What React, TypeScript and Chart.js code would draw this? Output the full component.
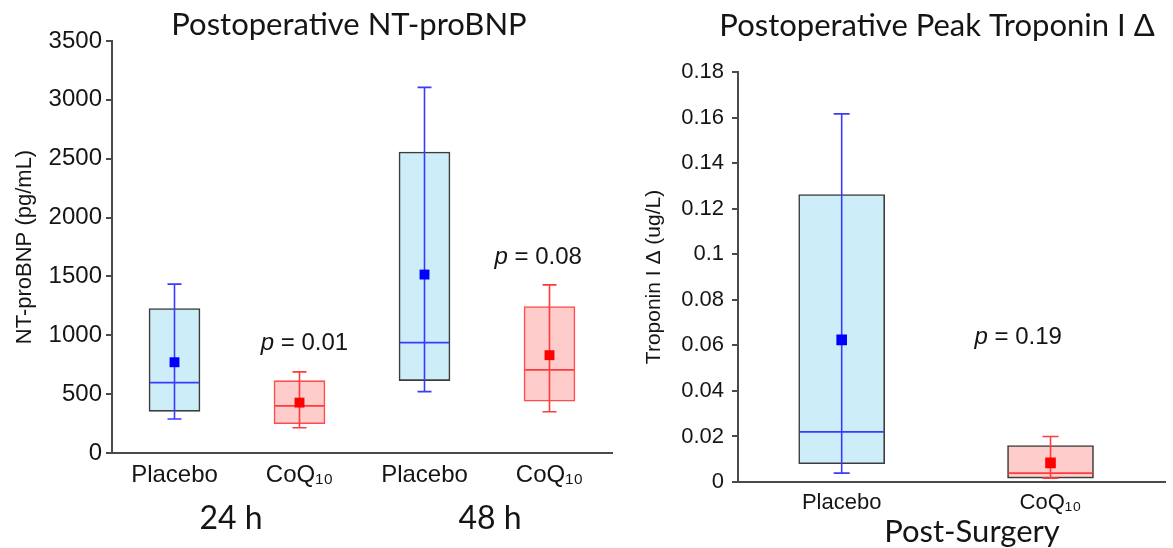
import React, { useEffect, useRef } from 'react';
import { Chart, registerables } from 'chart.js';

Chart.register(...registerables);

// ---------- Left chart: Postoperative NT-proBNP ----------
const leftCategories = ['Placebo', 'CoQ₁₀', 'Placebo', 'CoQ₁₀'];
const leftGroups = ['24 h', '48 h'];
const leftQ1 = [354, 249, 615, 440];
const leftQ3 = [1227, 615, 2557, 1244];
const leftMedian = [598, 400, 938, 706];
const leftMean = [771, 428, 1516, 831];
const leftWhiskerLow = [289, 215, 521, 351];
const leftWhiskerHigh = [1435, 689, 3106, 1428];
const leftYTicks = [0, 500, 1000, 1500, 2000, 2500, 3000, 3500];
const leftPValues = ['0.01', '0.08'];

// ---------- Right chart: Postoperative Peak Troponin I Δ ----------
const rightCategories = ['Placebo', 'CoQ₁₀'];
const rightGroup = 'Post-Surgery';
const rightQ1 = [0.008, 0.0017];
const rightQ3 = [0.1262, 0.016];
const rightMedian = [0.022, 0.0039];
const rightMean = [0.0624, 0.0084];
const rightWhiskerLow = [0.0039, 0.0017];
const rightWhiskerHigh = [0.1616, 0.02];
const rightYTicks = [0, 0.02, 0.04, 0.06, 0.08, 0.1, 0.12, 0.14, 0.16, 0.18];
const rightPValues = ['0.19'];

const BLUE_FILL = '#cdeef9';
const RED_FILL = '#ffcccc';
const BLUE_LINE = '#3a3aff';
const RED_LINE = '#ff3b3b';
const BLUE_MARK = '#0000ff';
const RED_MARK = '#ff0000';
const DARK = '#3c3c3c';
const AXIS = '#4a4a4a';
const TXT = '#151515';
const ARIAL = "'Liberation Sans', Arial, Helvetica, sans-serif";
const CAL = "Lato, 'Open Sans', sans-serif";

const isPlacebo = (label: string) => label === 'Placebo';

const boxExtras = {
  id: 'boxExtras',
  afterDatasetDraw(chart: any, args: any, opts: any) {
    if (args.index !== 0) return;
    const { ctx } = chart;
    const y = chart.scales.y;
    const meta = args.meta;
    ctx.save();
    ctx.lineWidth = opts.lineWidth;
    meta.data.forEach((bar: any, i: number) => {
      const { x, width } = bar.getProps(['x', 'width'], true);
      ctx.strokeStyle = opts.colors[i];
      const yLo = y.getPixelForValue(opts.lows[i]);
      const yHi = y.getPixelForValue(opts.highs[i]);
      const yMed = y.getPixelForValue(opts.medians[i]);
      const half = opts.capWidth / 2;
      ctx.beginPath();
      ctx.moveTo(x, yLo);
      ctx.lineTo(x, yHi);
      ctx.moveTo(x - half, yHi);
      ctx.lineTo(x + half, yHi);
      ctx.moveTo(x - half, yLo);
      ctx.lineTo(x + half, yLo);
      ctx.moveTo(x - width / 2 + 1, yMed);
      ctx.lineTo(x + width / 2 - 1, yMed);
      ctx.stroke();
    });
    ctx.restore();
  },
};

const annotations = {
  id: 'annotations',
  afterDraw(chart: any, _args: any, opts: any) {
    const { ctx } = chart;
    const xs = chart.scales.x;
    const ys = chart.scales.y;
    ctx.save();
    ctx.fillStyle = TXT;
    ctx.textBaseline = 'alphabetic';
    // title
    ctx.font = `${opts.titleSize}px ${CAL}`;
    ctx.textAlign = 'center';
    ctx.fillText(opts.title, opts.titleX, opts.titleY);
    // group labels
    ctx.font = `${opts.groupSize}px ${CAL}`;
    opts.groups.forEach((g: any) => {
      ctx.fillText(g.text, g.x, g.y);
    });
    // p-values
    opts.pvals.forEach((p: any) => {
      const px = xs.getPixelForValue(p.x);
      const py = ys.getPixelForValue(p.y);
      ctx.textAlign = 'left';
      ctx.textBaseline = 'middle';
      ctx.font = `italic ${opts.pSize}px ${ARIAL}`;
      const w1 = ctx.measureText('p').width;
      ctx.font = `${opts.pSize}px ${ARIAL}`;
      const rest = ' = ' + p.text;
      const w2 = ctx.measureText(rest).width;
      const start = px - (w1 + w2) / 2;
      ctx.font = `italic ${opts.pSize}px ${ARIAL}`;
      ctx.fillText('p', start, py);
      ctx.font = `${opts.pSize}px ${ARIAL}`;
      ctx.fillText(rest, start + w1, py);
    });
    ctx.restore();
  },
};

function makeConfig(p: any) {
  return {
    type: 'bar',
    data: {
      datasets: [
        {
          type: 'bar',
          order: 2,
          data: p.q1.map((q: number, i: number) => ({ x: i, y: [q, p.q3[i]] })),
          backgroundColor: p.categories.map((c: string) => (isPlacebo(c) ? BLUE_FILL : RED_FILL)),
          borderColor: p.boxBorders,
          borderWidth: p.boxBorderWidth,
          borderSkipped: false,
          barThickness: p.boxWidth,
        },
        {
          type: 'scatter',
          order: 1,
          data: p.mean.map((m: number, i: number) => ({ x: i, y: m })),
          pointStyle: 'rect',
          pointRadius: p.markRadius,
          pointBackgroundColor: p.categories.map((c: string) => (isPlacebo(c) ? BLUE_MARK : RED_MARK)),
          pointBorderWidth: 0,
          showLine: false,
        },
      ],
    },
    options: {
      responsive: false,
      animation: false,
      events: [],
      layout: { padding: { top: p.padTop, left: 0, right: p.padRight, bottom: 0 } },
      scales: {
        x: {
          type: 'linear',
          min: p.xMin,
          max: p.xMax,
          offset: false,
          grid: { display: false, drawTicks: false, offset: false },
          border: { display: true, color: AXIS, width: 2 },
          afterBuildTicks: (s: any) => {
            s.ticks = p.categories.map((_: string, i: number) => ({ value: i }));
          },
          afterFit: (s: any) => {
            s.height = p.xHeight;
          },
          ticks: {
            autoSkip: false,
            maxRotation: 0,
            padding: p.xTickPad,
            color: TXT,
            font: { family: ARIAL, size: p.xTickSize },
            callback: (v: number) => p.categories[Math.round(v)] ?? '',
          },
        },
        y: {
          type: 'linear',
          min: p.yTicks[0],
          max: p.yTicks[p.yTicks.length - 1],
          grid: { drawOnChartArea: false, drawTicks: true, tickLength: 6, color: AXIS, lineWidth: 2 },
          border: { display: true, color: AXIS, width: 2 },
          afterBuildTicks: (s: any) => {
            s.ticks = p.yTicks.map((v: number) => ({ value: v }));
          },
          afterFit: (s: any) => {
            s.width = p.yWidth;
          },
          ticks: {
            padding: p.yTickPad,
            color: TXT,
            font: { family: ARIAL, size: p.yTickSize },
            callback: (v: number) => String(+Number(v).toFixed(4)),
          },
          title: {
            display: true,
            text: p.yTitle,
            color: TXT,
            font: { family: ARIAL, size: p.yTitleSize },
            padding: { top: p.yTitlePad, bottom: 0 },
          },
        },
      },
      plugins: {
        legend: { display: false },
        tooltip: { enabled: false },
        title: { display: false },
        boxExtras: {
          medians: p.median,
          lows: p.low,
          highs: p.high,
          colors: p.categories.map((c: string) => (isPlacebo(c) ? BLUE_LINE : RED_LINE)),
          capWidth: p.capWidth,
          lineWidth: 1.6,
        },
        annotations: {
          title: p.title,
          titleX: p.titleX,
          titleY: p.titleY,
          titleSize: p.titleSize,
          groups: p.groups,
          groupSize: p.groupSize,
          pvals: p.pvals,
          pSize: p.pSize,
        },
      },
    },
    plugins: [boxExtras, annotations],
  };
}

const leftParams = {
  categories: leftCategories,
  q1: leftQ1,
  q3: leftQ3,
  median: leftMedian,
  mean: leftMean,
  low: leftWhiskerLow,
  high: leftWhiskerHigh,
  yTicks: leftYTicks,
  boxBorders: [DARK, '#ff4d4d', DARK, '#ff4d4d'],
  boxBorderWidth: 1.6,
  boxWidth: 51,
  capWidth: 14,
  markRadius: 7,
  padTop: 41,
  padRight: 8,
  xMin: -0.5,
  xMax: 3.5,
  xHeight: 95,
  xTickPad: 8,
  xTickSize: 24,
  yWidth: 112,
  yTickPad: 4,
  yTickSize: 24,
  yTitle: 'NT-proBNP (pg/mL)',
  yTitleSize: 22,
  yTitlePad: 12,
  title: 'Postoperative NT-proBNP',
  titleX: 349,
  titleY: 35,
  titleSize: 31,
  groups: [
    { text: leftGroups[0], x: 231, y: 529 },
    { text: leftGroups[1], x: 490, y: 529 },
  ],
  groupSize: 32,
  pvals: [
    { text: leftPValues[0], x: 1.04, y: 935 },
    { text: leftPValues[1], x: 2.91, y: 1665 },
  ],
  pSize: 24,
};

const rightParams = {
  categories: rightCategories,
  q1: rightQ1,
  q3: rightQ3,
  median: rightMedian,
  mean: rightMean,
  low: rightWhiskerLow,
  high: rightWhiskerHigh,
  yTicks: rightYTicks,
  boxBorders: [DARK, DARK],
  boxBorderWidth: 1.6,
  boxWidth: 86,
  capWidth: 16,
  markRadius: 7.5,
  padTop: 72,
  padRight: 0,
  xMin: -0.4965,
  xMax: 1.5506,
  xHeight: 66,
  xTickPad: 8,
  xTickSize: 22,
  yWidth: 118,
  yTickPad: 8,
  yTickSize: 22,
  yTitle: 'Troponin I Δ (ug/L)',
  yTitleSize: 21,
  yTitlePad: 22,
  title: 'Postoperative Peak Troponin I Δ',
  titleX: 317,
  titleY: 36,
  titleSize: 31,
  groups: [{ text: rightGroup, x: 352, y: 542 }],
  groupSize: 31,
  pvals: [{ text: rightPValues[0], x: 0.845, y: 0.0634 }],
  pSize: 24,
};

function ChartCanvas({ params, left, width }: { params: any; left: number; width: number }) {
  const ref = useRef<HTMLCanvasElement | null>(null);
  useEffect(() => {
    if (!ref.current) return;
    const chart = new Chart(ref.current, makeConfig(params) as any);
    return () => chart.destroy();
  }, [params]);
  return (
    <canvas
      ref={ref}
      width={width}
      height={548}
      style={{ position: 'absolute', left, top: 0, width, height: 548 }}
    />
  );
}

export default function App() {
  return (
    <div style={{ position: 'absolute', left: 0, top: 0, width: 1173, height: 548, background: '#fff', overflow: 'hidden' }}>
      <ChartCanvas params={leftParams} left={0} width={620} />
      <ChartCanvas params={rightParams} left={620} width={553} />
    </div>
  );
}
